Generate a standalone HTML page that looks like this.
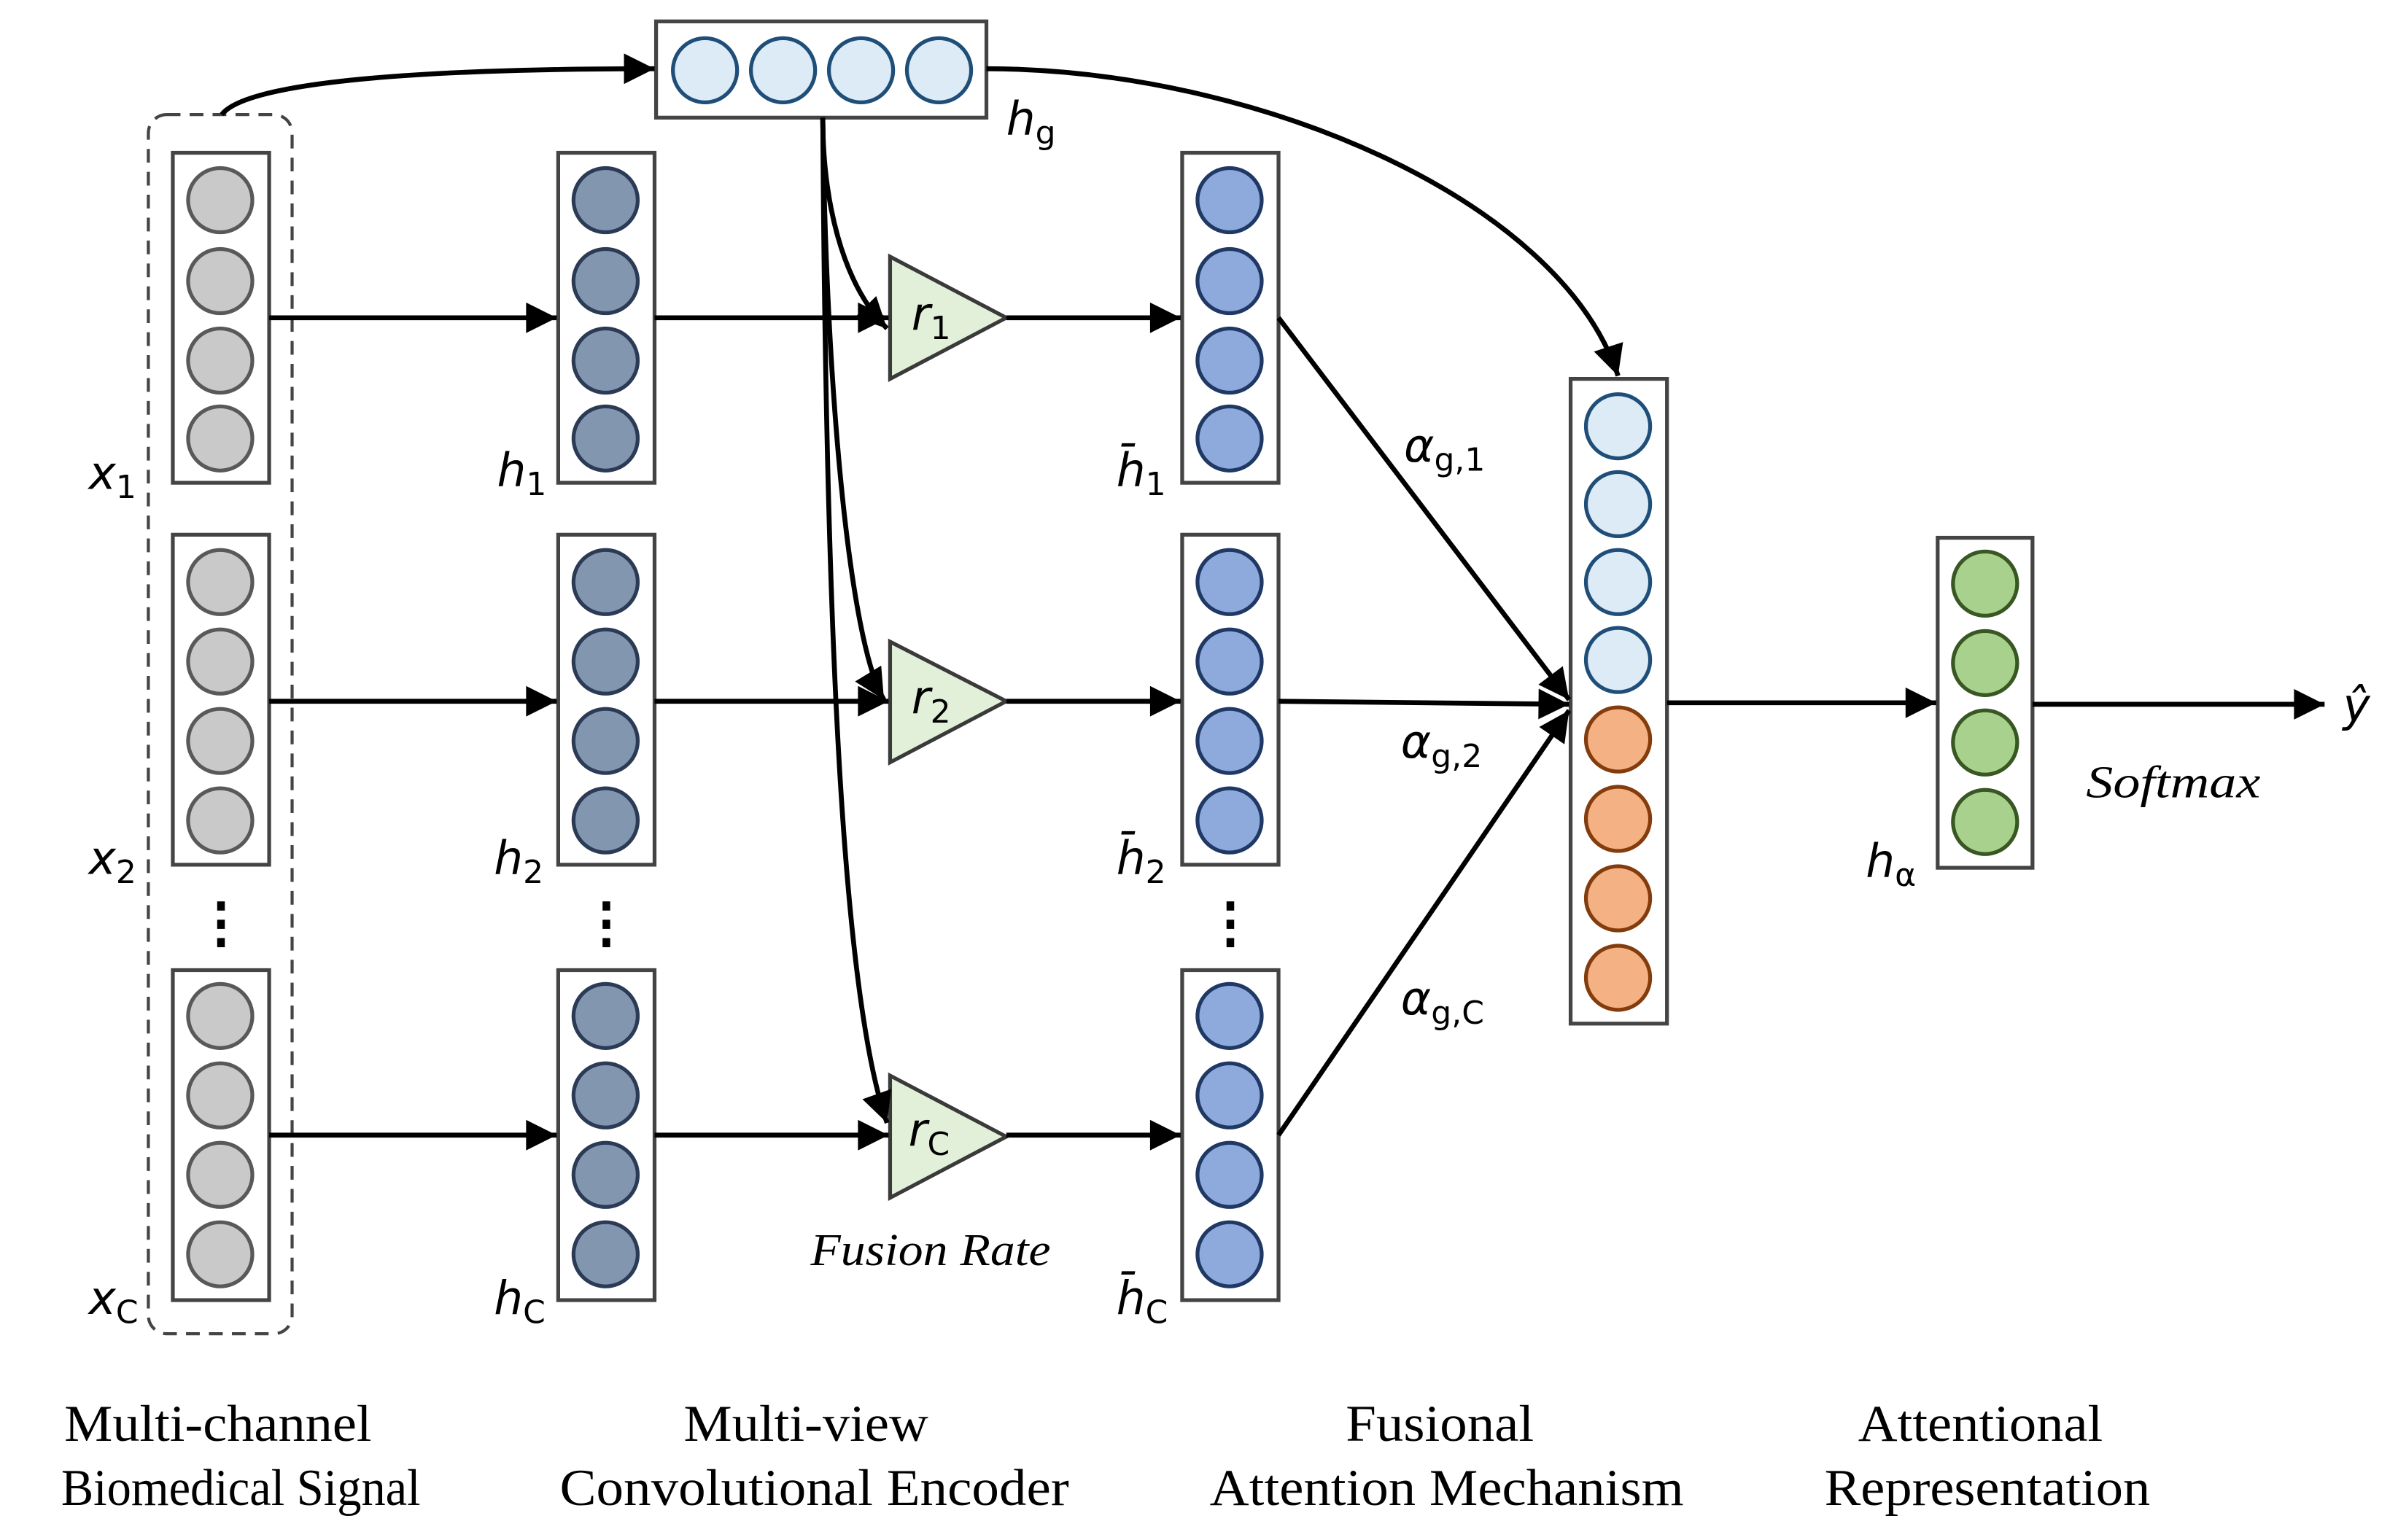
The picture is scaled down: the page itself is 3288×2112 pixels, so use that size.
<!DOCTYPE html>
<html><head><meta charset="utf-8"><style>
html,body{margin:0;padding:0;background:#fff;}
svg{display:block;}
.m{font-family:"DejaVu Sans","Liberation Serif",serif;font-style:italic;}
.m tspan{font-style:normal;}
.t{font-family:"Liberation Serif",serif;}
</style></head><body>
<svg width="3288" height="2112" viewBox="0 0 1568 1008" preserveAspectRatio="none" xmlns="http://www.w3.org/2000/svg">
<defs>
<marker id="b" viewBox="0 0 10 10" refX="10" refY="5" markerWidth="22" markerHeight="20" markerUnits="userSpaceOnUse" orient="auto"><path d="M0,0L10,5L0,10z" fill="#000"/></marker>
</defs>
<rect width="1568" height="1008" fill="#fff"/>
<rect x="97" y="75" width="94" height="798" rx="12" fill="none" stroke="#444" stroke-width="2" stroke-dasharray="9,6"/>
<g stroke="#444" stroke-width="2.5" fill="#fff">
<rect x="113" y="100" width="63" height="216"/><rect x="113" y="350" width="63" height="216"/><rect x="113" y="635" width="63" height="216"/>
<rect x="365" y="100" width="63" height="216"/><rect x="365" y="350" width="63" height="216"/><rect x="365" y="635" width="63" height="216"/>
<rect x="773" y="100" width="63" height="216"/><rect x="773" y="350" width="63" height="216"/><rect x="773" y="635" width="63" height="216"/>
<rect x="429" y="14" width="216" height="63"/>
<rect x="1027" y="248" width="63" height="422"/>
<rect x="1267" y="352" width="62" height="216"/>
</g>
<g stroke-width="2.5">
<g fill="#c9c9c9" stroke="#595959">
<circle cx="144" cy="131" r="21"/><circle cx="144" cy="184" r="21"/><circle cx="144" cy="236" r="21"/><circle cx="144" cy="287" r="21"/>
<circle cx="144" cy="381" r="21"/><circle cx="144" cy="433" r="21"/><circle cx="144" cy="485" r="21"/><circle cx="144" cy="537" r="21"/>
<circle cx="144" cy="665" r="21"/><circle cx="144" cy="717" r="21"/><circle cx="144" cy="769" r="21"/><circle cx="144" cy="821" r="21"/>
</g>
<g fill="#8396b0" stroke="#2b3a55">
<circle cx="396" cy="131" r="21"/><circle cx="396" cy="184" r="21"/><circle cx="396" cy="236" r="21"/><circle cx="396" cy="287" r="21"/>
<circle cx="396" cy="381" r="21"/><circle cx="396" cy="433" r="21"/><circle cx="396" cy="485" r="21"/><circle cx="396" cy="537" r="21"/>
<circle cx="396" cy="665" r="21"/><circle cx="396" cy="717" r="21"/><circle cx="396" cy="769" r="21"/><circle cx="396" cy="821" r="21"/>
</g>
<g fill="#8eaadc" stroke="#1f3864">
<circle cx="804" cy="131" r="21"/><circle cx="804" cy="184" r="21"/><circle cx="804" cy="236" r="21"/><circle cx="804" cy="287" r="21"/>
<circle cx="804" cy="381" r="21"/><circle cx="804" cy="433" r="21"/><circle cx="804" cy="485" r="21"/><circle cx="804" cy="537" r="21"/>
<circle cx="804" cy="665" r="21"/><circle cx="804" cy="717" r="21"/><circle cx="804" cy="769" r="21"/><circle cx="804" cy="821" r="21"/>
</g>
<g fill="#ddebf7" stroke="#1f4e79">
<circle cx="461" cy="46" r="21"/><circle cx="512" cy="46" r="21"/><circle cx="563" cy="46" r="21"/><circle cx="614" cy="46" r="21"/>
<circle cx="1058" cy="279" r="21"/><circle cx="1058" cy="330" r="21"/><circle cx="1058" cy="381" r="21"/><circle cx="1058" cy="432" r="21"/>
</g>
<g fill="#f4b183" stroke="#843c0c">
<circle cx="1058" cy="484" r="21"/><circle cx="1058" cy="536" r="21"/><circle cx="1058" cy="588" r="21"/><circle cx="1058" cy="640" r="21"/>
</g>
<g fill="#a9d18e" stroke="#385723">
<circle cx="1298" cy="382" r="21"/><circle cx="1298" cy="434" r="21"/><circle cx="1298" cy="486" r="21"/><circle cx="1298" cy="538" r="21"/>
</g>
</g>
<g fill="#e2f0d9" stroke="#3a3a3a" stroke-width="2.5">
<polygon points="582,168 582,248 658,208"/>
<polygon points="582,420 582,499 658,459"/>
<polygon points="582,704 582,784 658,744"/>
</g>
<g stroke="#000" stroke-width="3.2" fill="none">
<path d="M176,208H364" marker-end="url(#b)"/>
<path d="M428,208H581" marker-end="url(#b)"/>
<path d="M658,208H772" marker-end="url(#b)"/>
<path d="M176,459H364" marker-end="url(#b)"/>
<path d="M428,459H581" marker-end="url(#b)"/>
<path d="M658,459H772" marker-end="url(#b)"/>
<path d="M176,743H364" marker-end="url(#b)"/>
<path d="M428,743H581" marker-end="url(#b)"/>
<path d="M658,743H772" marker-end="url(#b)"/>
<path d="M538,77C538,130 550,185 580,215" marker-end="url(#b)"/>
<path d="M538,77C540,250 555,420 578,458" marker-end="url(#b)"/>
<path d="M538,77C540,400 550,650 580,735" marker-end="url(#b)"/>
<path d="M145,75C160,55 260,45 428,45" marker-end="url(#b)"/>
<path d="M645,45C820,45 1020,130 1058,246" marker-end="url(#b)"/>
<path d="M836,208L1026,458" marker-end="url(#b)"/>
<path d="M836,459L1026,461" marker-end="url(#b)"/>
<path d="M836,743L1026,465" marker-end="url(#b)"/>
<path d="M1090,460H1266" marker-end="url(#b)"/>
<path d="M1329,461H1520" marker-end="url(#b)"/>
</g>
<g fill="#000">
<rect x="142" y="590" width="5" height="6"/><rect x="142" y="602" width="5" height="6"/><rect x="142" y="614" width="5" height="6"/>
<rect x="394" y="590" width="5" height="6"/><rect x="394" y="602" width="5" height="6"/><rect x="394" y="614" width="5" height="6"/>
<rect x="802" y="590" width="5" height="6"/><rect x="802" y="602" width="5" height="6"/><rect x="802" y="614" width="5" height="6"/>
</g>
<g class="m" font-size="30" fill="#000">
<text x="58" y="320">x<tspan font-size="21" dy="6">1</tspan></text>
<text x="58" y="572">x<tspan font-size="21" dy="6">2</tspan></text>
<text x="58" y="860">x<tspan font-size="21" dy="6">C</tspan></text>
<text x="325" y="318">h<tspan font-size="21" dy="6">1</tspan></text>
<text x="323" y="572">h<tspan font-size="21" dy="6">2</tspan></text>
<text x="323" y="860">h<tspan font-size="21" dy="6">C</tspan></text>
<text x="730" y="318">h̄<tspan font-size="21" dy="6">1</tspan></text>
<text x="730" y="572">h̄<tspan font-size="21" dy="6">2</tspan></text>
<text x="730" y="860">h̄<tspan font-size="21" dy="6">C</tspan></text>
<text x="658" y="88">h<tspan font-size="21" dy="6" font-style="italic">g</tspan></text>
<text x="596" y="216">r<tspan font-size="21" dy="6">1</tspan></text>
<text x="596" y="467">r<tspan font-size="21" dy="6">2</tspan></text>
<text x="594" y="750">r<tspan font-size="21" dy="6">C</tspan></text>
<text x="918" y="302">α<tspan font-size="21" dy="6" font-style="italic">g,1</tspan></text>
<text x="916" y="496">α<tspan font-size="21" dy="6" font-style="italic">g,2</tspan></text>
<text x="916" y="664">α<tspan font-size="21" dy="6" font-style="italic">g,C</tspan></text>
<text x="1220" y="574">h<tspan font-size="21" dy="6" font-style="italic">α</tspan></text>
<text x="1532" y="472">ŷ</text>
</g>
<g class="t" font-style="italic" font-size="30" fill="#000">
<text x="530" y="828" textLength="157" lengthAdjust="spacingAndGlyphs">Fusion Rate</text>
<text x="1364" y="522" textLength="114" lengthAdjust="spacingAndGlyphs">Softmax</text>
</g>
<g class="t" font-size="34" fill="#000">
<text x="42" y="943" textLength="201" lengthAdjust="spacingAndGlyphs">Multi-channel</text>
<text x="40" y="985" textLength="235" lengthAdjust="spacingAndGlyphs">Biomedical Signal</text>
<text x="447" y="943" textLength="160" lengthAdjust="spacingAndGlyphs">Multi-view</text>
<text x="366" y="985" textLength="333" lengthAdjust="spacingAndGlyphs">Convolutional Encoder</text>
<text x="880" y="943" textLength="123" lengthAdjust="spacingAndGlyphs">Fusional</text>
<text x="791" y="985" textLength="310" lengthAdjust="spacingAndGlyphs">Attention Mechanism</text>
<text x="1215" y="943" textLength="160" lengthAdjust="spacingAndGlyphs">Attentional</text>
<text x="1193" y="985" textLength="213" lengthAdjust="spacingAndGlyphs">Representation</text>
</g>
</svg>
</body></html>
